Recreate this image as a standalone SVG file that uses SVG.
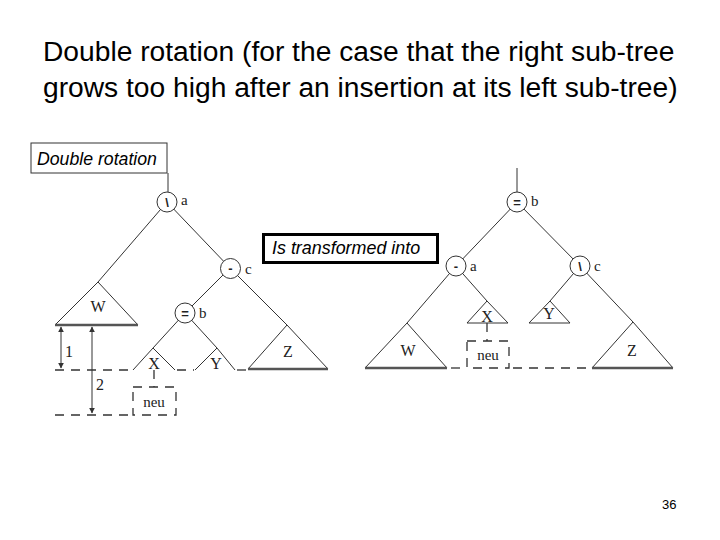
<svg xmlns="http://www.w3.org/2000/svg" width="720" height="540" viewBox="0 0 720 540">
<style>
.t{font-family:"Liberation Sans",Arial,sans-serif;fill:#000}
.s{font-family:"Liberation Serif","Times New Roman",serif;fill:#222}
.sym{font-family:"Liberation Sans",Arial,sans-serif;fill:#222;font-weight:bold;font-size:13px;text-anchor:middle}
.e{stroke:#333;stroke-width:1;fill:none}
.n{stroke:#333;stroke-width:1;fill:#fff}
.tri{stroke:#333;stroke-width:1;fill:none}
.base{stroke:#555;stroke-width:2.5}
.d{stroke:#333;stroke-width:1.3;fill:none;stroke-dasharray:9,7}
</style>
<defs>
<marker id="ah" viewBox="0 0 10 10" refX="9" refY="5" markerWidth="6" markerHeight="6" orient="auto-start-reverse">
<path d="M0,0 L10,5 L0,10 z" fill="#333"/>
</marker>
</defs>
<rect width="720" height="540" fill="#fff"/>
<g id="title">
<text class="t" x="43" y="61" font-size="28.2">Double rotation (for the case that the right sub-tree</text>
<text class="t" x="43" y="97" font-size="28.2">grows too high after an insertion at its left sub-tree)</text>
</g>
<g id="label-double">
<rect x="31" y="143" width="136" height="30" fill="#fff" stroke="#333" stroke-width="1"/>
<text class="t" x="37" y="165" font-size="17.7" font-style="italic">Double rotation</text>
</g>
<g id="label-transformed">
<rect x="263.5" y="234.5" width="174" height="28" fill="#fff" stroke="#000" stroke-width="3"/>
<text class="t" x="272" y="254" font-size="17.9" font-style="italic">Is transformed into</text>
</g>
<g id="connectors">
<line class="e" x1="168" y1="173" x2="168" y2="192"/>
<line class="e" x1="172.5" y1="207.8" x2="224.5" y2="262.2"/>
<line class="e" x1="161.8" y1="208" x2="98" y2="282"/>
<line class="e" x1="224.3" y1="273.7" x2="190.7" y2="307.3"/>
<line class="e" x1="235.7" y1="273.7" x2="287" y2="325"/>
<line class="e" x1="179.6" y1="318.9" x2="153" y2="348"/>
<line class="e" x1="190.4" y1="318.9" x2="217" y2="348"/>
<line class="e" x1="517" y1="168" x2="517" y2="192"/>
<line class="e" x1="511.5" y1="207.8" x2="461.5" y2="260.2"/>
<line class="e" x1="522.6" y1="207.7" x2="574.4" y2="260.3"/>
<line class="e" x1="450.8" y1="272" x2="407" y2="323"/>
<line class="e" x1="461.3" y1="272" x2="487" y2="301"/>
<line class="e" x1="574.8" y1="272" x2="550" y2="301"/>
<line class="e" x1="585.5" y1="271.8" x2="633" y2="322"/>
</g>
<g id="left-a">
<circle class="n" cx="167" cy="202" r="10"/>
<text class="sym" x="167" y="207">\</text>
<text class="s" x="181" y="205" font-size="15">a</text>
</g>
<g id="left-c">
<circle class="n" cx="230.5" cy="268.5" r="10"/>
<text class="sym" x="230.5" y="273">-</text>
<text class="s" x="245" y="274" font-size="15">c</text>
</g>
<g id="left-b">
<circle class="n" cx="185" cy="313" r="10"/>
<text class="sym" x="185" y="317.5">=</text>
<text class="s" x="199" y="318" font-size="15">b</text>
</g>
<g id="left-W">
<path class="tri" d="M98,282 L55,325 M98,282 L138,325"/>
<line class="base" x1="55" y1="325" x2="138" y2="325"/>
<text class="s" x="98" y="312" font-size="16" text-anchor="middle">W</text>
</g>
<g id="left-X">
<path class="tri" d="M133,370 L153,348 L175,370"/>
<text class="s" x="154" y="369" font-size="16" text-anchor="middle">X</text>
</g>
<g id="left-Y">
<path class="tri" d="M195,370 L217,348 L235,370"/>
<text class="s" x="216" y="369" font-size="16" text-anchor="middle">Y</text>
</g>
<g id="left-Z">
<path class="tri" d="M248,369 L287,325 L328,369"/>
<line class="base" x1="248" y1="369" x2="328" y2="369"/>
<text class="s" x="288" y="357" font-size="16" text-anchor="middle">Z</text>
</g>
<g id="left-neu">
<rect class="d" x="133" y="387" width="43" height="28" stroke-dasharray="6,5"/>
<line class="d" x1="154" y1="370" x2="154" y2="387" stroke-dasharray="5,4"/>
<text class="s" x="154" y="407" font-size="15" text-anchor="middle">neu</text>
</g>
<g id="left-levels">
<line class="d" x1="55" y1="370" x2="133" y2="370"/>
<line class="d" x1="177" y1="370" x2="194" y2="370"/>
<line class="d" x1="237" y1="370" x2="247" y2="370" stroke-dasharray="3,3"/>
<line class="d" x1="55" y1="415" x2="133" y2="415"/>
<line class="e" x1="61" y1="327" x2="61" y2="368" marker-start="url(#ah)" marker-end="url(#ah)"/>
<line class="e" x1="92" y1="327" x2="92" y2="413" stroke-width="1.5" marker-start="url(#ah)" marker-end="url(#ah)"/>
<text class="s" x="65" y="357" font-size="16">1</text>
<text class="s" x="96" y="390" font-size="16">2</text>
</g>
<g id="right-b">
<circle class="n" cx="517" cy="202" r="10"/>
<text class="sym" x="517" y="206.5">=</text>
<text class="s" x="531" y="206" font-size="15">b</text>
</g>
<g id="right-a">
<circle class="n" cx="456" cy="266" r="10"/>
<text class="sym" x="456" y="270.5">-</text>
<text class="s" x="470" y="271" font-size="15">a</text>
</g>
<g id="right-c">
<circle class="n" cx="580" cy="266" r="10"/>
<text class="sym" x="580" y="271">\</text>
<text class="s" x="594" y="271" font-size="15">c</text>
</g>
<g id="right-W">
<path class="tri" d="M407,323 L365,368 M407,323 L447,368"/>
<line class="base" x1="365" y1="368" x2="447" y2="368"/>
<text class="s" x="408" y="356" font-size="16" text-anchor="middle">W</text>
</g>
<g id="right-X">
<path class="tri" d="M467,323 L487,301 L508,323 Z"/>
<text class="s" x="487" y="322" font-size="16" text-anchor="middle">X</text>
</g>
<g id="right-Y">
<path class="tri" d="M529,323 L550,301 L570,323 Z"/>
<text class="s" x="549" y="319" font-size="16" text-anchor="middle">Y</text>
</g>
<g id="right-Z">
<path class="tri" d="M592,368 L633,322 L673,368"/>
<line class="base" x1="592" y1="368" x2="673" y2="368"/>
<text class="s" x="632" y="356" font-size="16" text-anchor="middle">Z</text>
</g>
<g id="right-neu">
<rect class="d" x="467" y="341" width="42" height="27" stroke-dasharray="6,5"/>
<line class="d" x1="487" y1="323" x2="487" y2="341" stroke-dasharray="5,4"/>
<text class="s" x="488" y="360" font-size="15" text-anchor="middle">neu</text>
<line class="d" x1="451" y1="368" x2="467" y2="368"/>
<line class="d" x1="513" y1="368" x2="592" y2="368"/>
</g>
<g id="page">
<text class="t" x="662" y="509" font-size="13">36</text>
</g>
</svg>
